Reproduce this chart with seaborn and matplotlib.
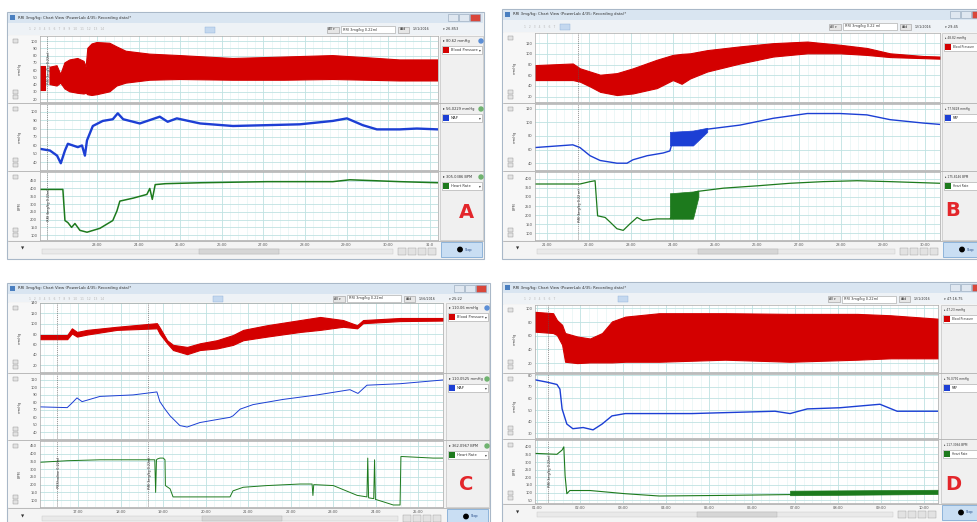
import numpy as np
import matplotlib
matplotlib.use("Agg")
import matplotlib.pyplot as plt
import seaborn as sns
from matplotlib.patches import Rectangle, Circle
from matplotlib.ticker import MultipleLocator

W, H = 978, 522
nan = np.nan

# ---------------- data ----------------
# panel A
a_bp_t = [21.63, 21.75, 21.80, 21.87, 22.04, 22.13, 22.23, 22.35, 22.54, 22.69, 22.74, 22.78, 22.88,
          23.00, 23.31, 23.48, 23.70, 24.27, 25.00, 26.27, 27.50, 28.67, 29.50, 30.28, 31.20]
a_bp_hi = [66, 66, nan, 64, 66, 54, 70, 74, 76, 72, 64, 90, 96, 98, 97, 92, 86, 82, 80, 76, 78, 80, 77, 74, 74]
a_bp_lo = [32, 32, nan, 40, 38, 42, 34, 30, 28, 27, 28, 26, 25, 26, 30, 38, 42, 46, 47, 46, 46, 47, 46, 45, 45]
a_map_t = [21.63, 21.87, 22.04, 22.13, 22.23, 22.30, 22.42, 22.54, 22.64, 22.71, 22.76, 22.90, 23.14, 23.38,
           23.50, 23.63, 24.03, 24.51, 24.70, 24.92, 25.48, 26.27, 27.09, 27.88, 28.67, 29.01, 29.39, 29.73,
           30.28, 30.69, 31.20]
a_map = [56, 54, 48, 39, 54, 62, 60, 58, 60, 48, 66, 83, 89, 91, 98, 91, 86, 94, 88, 92, 86, 83, 84, 85, 89,
         92, 84, 79, 79, 80, 79]
a_hr_t = [21.63, 22.18, 22.23, 22.30, 22.39, 22.47, 22.59, 22.76, 23.07, 23.38, 23.48, 23.55, 23.87, 24.20,
          24.27, 24.33, 24.40, 24.65, 25.50, 27.09, 28.67, 29.08, 30.28, 31.20]
a_hr = [394, 394, 194, 181, 150, 175, 131, 119, 144, 194, 256, 319, 338, 362, 400, 330, 425, 431, 437, 444,
        444, 456, 444, 437]

# panel B
b_bp_t = [20.71, 21.61, 21.78, 22.02, 22.26, 22.66, 23.04, 23.61, 23.99, 24.20, 24.40, 24.81, 25.59, 26.38,
          27.19, 27.97, 28.61, 29.16, 29.95, 30.35]
b_bp_hi = [79, 82, 73, 67, 61, 64, 73, 89, 98, 100, 101, 107, 114, 120, 123, 117, 111, 101, 96, 95]
b_bp_lo = [51, 51, 48, 39, 29, 23, 26, 36, 51, 44, 54, 67, 82, 95, 101, 101, 98, 94, 92, 91]
b_map_t = [20.71, 21.61, 21.78, 22.02, 22.26, 22.66, 22.90, 23.04, 23.38, 23.76, 23.92, 23.99, 24.40, 24.81,
           25.59, 26.38, 27.19, 27.97, 28.61, 29.16, 29.95, 30.35]
b_map = [63, 67, 63, 51, 44, 40, 40, 45, 51, 55, 58, 73, 80, 90, 96, 106, 113, 113, 111, 104, 99, 97]
b_map_burst_t = [23.92, 24.47, 24.81]
b_map_burst_lo = [66, 66, 86]
b_map_burst_hi = [86, 88, 92]
b_hr_t = [20.71, 21.78, 22.02, 22.14, 22.20, 22.38, 22.50, 22.66, 22.81, 22.97, 23.14, 23.28, 23.61, 23.92,
          24.47, 24.57, 25.19, 26.00, 26.78, 27.57, 28.38, 29.16, 30.35]
b_hr = [371, 371, 384, 389, 196, 187, 161, 125, 116, 152, 187, 170, 179, 179, 320, 330, 348, 361, 375, 384,
        389, 384, 375]
b_hr_burst_t = [23.92, 24.47, 24.60]
b_hr_burst_lo = [180, 180, 300]
b_hr_burst_hi = [320, 330, 335]

# panel C
c_bp_t = [16.10, 16.74, 16.85, 16.97, 17.21, 17.91, 18.85, 18.92, 19.09, 19.23, 19.56, 19.86, 20.26, 20.64,
          20.88, 21.44, 22.22, 22.69, 23.23, 23.56, 23.70, 24.57, 25.58]
c_bp_hi = [78, 78, 91, 84, 88, 94, 101, 92, 68, 59, 55, 62, 68, 78, 88, 97, 107, 113, 107, 97, 107, 111, 111]
c_bp_lo = [70, 70, 81, 75, 79, 88, 91, 80, 62, 49, 41, 49, 52, 59, 68, 75, 84, 88, 94, 91, 101, 105, 106]
c_map_t = [16.10, 16.74, 16.85, 16.97, 17.09, 17.51, 18.29, 18.85, 18.92, 19.04, 19.16, 19.39, 19.56, 19.86,
           20.26, 20.57, 20.64, 20.81, 21.11, 21.82, 22.62, 23.39, 23.58, 23.79, 24.57, 25.58]
c_map = [74, 73, 79, 86, 81, 88, 90, 94, 81, 71, 62, 49, 47, 53, 57, 60, 62, 71, 77, 84, 90, 97, 92, 103, 105, 110]
c_hr_t = [16.10, 16.74, 17.51, 18.80, 18.82, 18.84, 18.86, 18.92, 19.00, 19.04, 19.05, 19.16, 19.23, 19.86,
          20.57, 20.64, 20.88, 21.44, 22.22, 22.50, 22.52, 22.54, 23.00, 23.56, 23.79, 23.81, 23.83, 23.95,
          23.97, 23.99, 24.17, 24.41, 24.57, 24.59, 24.62, 25.35, 25.58]
c_hr = [344, 354, 360, 360, 150, 360, 365, 371, 371, 360, 194, 173, 121, 121, 121, 160, 183, 194, 204, 204,
        130, 200, 194, 131, 121, 371, 115, 110, 360, 105, 90, 69, 69, 381, 381, 371, 371]

# panel D
d_bp_t = [0.95, 1.37, 1.46, 1.58, 1.65, 1.93, 2.23, 2.51, 2.74, 3.05, 3.84, 5.37, 6.88, 8.44, 9.21, 10.32]
d_bp_hi = [95, 93, 83, 76, 64, 59, 56, 64, 81, 88, 93, 93, 92, 92, 90, 85]
d_bp_lo = [66, 64, 61, 47, 22, 20, 21, 21, 21, 22, 22, 25, 22, 25, 27, 27]
d_map_t = [0.95, 1.23, 1.46, 1.53, 1.58, 1.69, 1.83, 2.07, 2.30, 2.51, 2.74, 3.05, 4.60, 6.53, 6.88, 7.28,
           8.04, 8.97, 9.37, 10.32]
d_map = [76, 74, 72, 68, 51, 38, 34, 35, 33, 38, 45, 47, 47, 49, 47, 51, 52, 55, 49, 49]
d_hr_t = [0.95, 1.46, 1.58, 1.62, 1.65, 1.69, 1.76, 2.23, 3.05, 3.84, 5.37, 6.77, 10.32]
d_hr = [357, 351, 379, 400, 209, 92, 113, 113, 92, 77, 81, 86, 95]
d_hr_burst_t = [6.88, 10.32]
d_hr_burst_lo = [82, 90]
d_hr_burst_hi = [112, 118]

# axis ticks / labels
a_xticks = [23, 24, 25, 26, 27, 28, 29, 30, 31]
a_xlabels = ["23:00", "24:00", "25:00", "26:00", "27:00", "28:00", "29:00", "30:00", "31:0"]
b_xticks = [21, 22, 23, 24, 25, 26, 27, 28, 29, 30]
b_xlabels = ["21:00", "22:00", "23:00", "24:00", "25:00", "26:00", "27:00", "28:00", "29:00", "30:00"]
c_xticks = [17, 18, 19, 20, 21, 22, 23, 24, 25]
c_xlabels = ["17:00", "18:00", "19:00", "20:00", "21:00", "22:00", "23:00", "24:00", "25:00"]
d_xticks = [1, 2, 3, 4, 5, 6, 7, 8, 9, 10]
d_xlabels = ["01:00", "02:00", "03:00", "04:00", "05:00", "06:00", "07:00", "08:00", "09:00", "10:00"]

a_yticks = [list(range(20, 101, 10)), list(range(40, 101, 10)), list(range(100, 451, 50))]
b_yticks = [list(range(20, 121, 20)), list(range(40, 121, 20)), list(range(100, 401, 50))]
c_yticks = [list(range(20, 141, 20)), list(range(40, 111, 10)), list(range(100, 451, 50))]
d_yticks = [list(range(20, 101, 20)), list(range(30, 81, 10)), list(range(50, 401, 50))]

channels = ["Blood Pressure", "MAP", "Heart Rate"]
units = ["mmHg", "mmHg", "BPM"]
a_readouts = ["80.62 mmHg", "56.0229 mmHg", "305.0386 BPM"]
b_readouts = ["48.82 mmHg", "77.9428 mmHg", "175.8146 BPM"]
c_readouts = ["110.06 mmHg", "110.0525 mmHg", "362.0967 BPM"]
d_readouts = ["47.23 mmHg", "76.0791 mmHg", "117.3066 BPM"]

# ---------------- layout (pixel boxes) ----------------
PANELS = {
    "A": dict(win=(7, 12, 484, 259), plot=(40, 438), rows=[(36, 102), (104, 170), (172, 240)], side=(440, 484),
              xlim=(21.63, 31.20), ylims=[(16, 107), (31, 109), (69, 506)], letter=(466, 212), hl=198,
              map_lw=1.7, hr_lw=1.1, clock="26.853", date="12/1/2016", comment="RRI 3mg/kg 0.22ml",
              events=[(21.80, [0, 2], "RRI 3mg/kg 0.22ml")]),
    "B": dict(win=(502, 9, 994, 259), plot=(535, 940), rows=[(33, 102), (104, 170), (172, 240)], side=(942, 994),
              xlim=(20.71, 30.35), ylims=[(10, 139), (30, 127), (63, 437)], letter=(953, 211), hl=58,
              map_lw=1.0, hr_lw=0.9, clock="29:45", date="12/1/2016", comment="RRI 3mg/kg 0.22 ml",
              events=[(21.73, [2], "RRI 3mg/kg 0.22 ml")]),
    "C": dict(win=(7, 283, 490, 532), plot=(40, 443), rows=[(303, 372), (374, 439), (441, 507)], side=(446, 490),
              xlim=(16.10, 25.58), ylims=[(6.5, 140), (31, 118), (56, 481)], letter=(466, 484), hl=206,
              map_lw=0.7, hr_lw=0.7, clock="25:22", date="12/6/2016", comment="RRI 3mg/kg 0.22ml",
              events=[(16.50, [2], "PBS/saline 0.22ml"), (18.64, [2], "RRI 3mg/kg 0.22ml")]),
    "D": dict(win=(502, 282, 994, 532), plot=(535, 938), rows=[(305, 372), (374, 438), (440, 503)], side=(941, 994),
              xlim=(0.95, 10.32), ylims=[(7, 105), (26, 81), (31, 445)], letter=(953, 484), hl=116,
              map_lw=1.0, hr_lw=0.8, clock="47:16.75", date="12/1/2016", comment="RRI 3mg/kg 0.22ml",
              events=[(1.25, [2], "RRI 3mg/kg 0.22ml")]),
}

SERIES = {
    "A": dict(bp=(a_bp_t, a_bp_lo, a_bp_hi), map=(a_map_t, a_map), hr=(a_hr_t, a_hr), map_burst=None,
              hr_burst=None, xt=(a_xticks, a_xlabels), yt=a_yticks, read=a_readouts),
    "B": dict(bp=(b_bp_t, b_bp_lo, b_bp_hi), map=(b_map_t, b_map), hr=(b_hr_t, b_hr),
              map_burst=(b_map_burst_t, b_map_burst_lo, b_map_burst_hi),
              hr_burst=(b_hr_burst_t, b_hr_burst_lo, b_hr_burst_hi), xt=(b_xticks, b_xlabels), yt=b_yticks,
              read=b_readouts),
    "C": dict(bp=(c_bp_t, c_bp_lo, c_bp_hi), map=(c_map_t, c_map), hr=(c_hr_t, c_hr), map_burst=None,
              hr_burst=None, xt=(c_xticks, c_xlabels), yt=c_yticks, read=c_readouts),
    "D": dict(bp=(d_bp_t, d_bp_lo, d_bp_hi), map=(d_map_t, d_map), hr=(d_hr_t, d_hr), map_burst=None,
              hr_burst=(d_hr_burst_t, d_hr_burst_lo, d_hr_burst_hi), xt=(d_xticks, d_xlabels), yt=d_yticks,
              read=d_readouts),
}

RED, BLUE, GREEN = "#d40000", "#1c3fd4", "#1d7a1d"
CH_COLORS = [RED, BLUE, GREEN]

sns.set_style("white")
plt.rcParams["font.family"] = ["DejaVu Sans"]

fig = plt.figure(figsize=(W / 100, H / 100), dpi=100)
bg = fig.add_axes([0, 0, 1, 1])
bg.set_xlim(0, W)
bg.set_ylim(H, 0)
bg.axis("off")


def rect(x0, y0, x1, y1, fc, ec="none", lw=0.5, z=1):
    bg.add_patch(Rectangle((x0, y0), x1 - x0, y1 - y0, facecolor=fc, edgecolor=ec, linewidth=lw, zorder=z))


def txt(x, y, s, size=3.2, color="#333333", **kw):
    bg.text(x, y, s, fontsize=size, color=color, va="center", **kw)


def px_axes(x0, y0, x1, y1):
    return fig.add_axes([x0 / W, 1 - y1 / H, (x1 - x0) / W, (y1 - y0) / H])


def draw_window(key):
    p = PANELS[key]
    s = SERIES[key]
    x0, y0, x1, y1 = p["win"]
    sx0, sx1 = p["side"]
    px0, px1 = p["plot"]
    rows = p["rows"]
    bot = rows[-1][1]
    cut = x1 > W          # window runs past the right edge of the picture
    side_fs = 2.1 if cut else 2.6

    # window frame and title bar
    rect(x0, y0, x1, y1, "#f4f4f4", ec="#a9b8c8", lw=0.8)
    rect(x0 + 1, y0 + 1, x1 - 1, y0 + 11, "#d9e5f1")
    rect(x0 + 3, y0 + 3, x0 + 8, y0 + 8, "#4a7fc0")
    txt(x0 + 11, y0 + 5.5, "RRI 3mg/kg: Chart View (PowerLab 4/35: Recording data)*", size=2.8)
    bx = x1 - 44 if cut else x1 - 36
    for i, c in enumerate(["#dfe7f0", "#dfe7f0", "#d9463a"]):
        rect(bx + i * 11, y0 + 2, bx + i * 11 + 10, y0 + 9, c, ec="#8fa3b8", lw=0.4)

    # toolbar
    rect(x0 + 1, y0 + 11, x1 - 1, rows[0][0] - 1, "#eef2f6")
    ty = (y0 + 11 + rows[0][0]) / 2
    n_marks = 15 if p["hl"] > 150 else 8
    txt(x0 + 22, ty, "   ".join(str(i) for i in range(1, n_marks)), size=2.2, color="#b5b5b5")
    rect(x0 + p["hl"], ty - 3, x0 + p["hl"] + 10, ty + 3, "#c4d8ef", ec="#8eb0d8", lw=0.3)
    rect(sx0 - 113, ty - 3, sx0 - 101, ty + 3, "#e6e6e6", ec="#9a9a9a", lw=0.4)
    txt(sx0 - 112, ty, "All \u25be", size=2.3)
    rect(sx0 - 99, ty - 3.5, sx0 - 45, ty + 3.5, "white", ec="#a0a0a0", lw=0.4)
    txt(sx0 - 97, ty, p["comment"], size=2.5)
    rect(sx0 - 42, ty - 3, sx0 - 31, ty + 3, "#e6e6e6", ec="#9a9a9a", lw=0.4)
    txt(sx0 - 40, ty, "Add", size=2.3)
    txt(sx0 - 27, ty, p["date"], size=2.3)
    txt(sx0 + 3, ty, "\u25be " + p["clock"], size=2.5)

    # left strip, sidebar
    rect(x0 + 1, rows[0][0], px0, bot, "#f7f7f7")
    rect(sx0, rows[0][0], x1 - 1, bot, "#f0f0f0", ec="#b9b9b9", lw=0.4)

    for r, (r0, r1) in enumerate(rows):
        # separators and small buttons
        bg.plot([x0 + 1, x1 - 1], [r1 + 1, r1 + 1], color="#b0b0b0", lw=0.6, zorder=2)
        for yy in (r0 + 3, r1 - 12, r1 - 7):
            rect(x0 + 6, yy, x0 + 11, yy + 4, "#e3e3e3", ec="#8c8c8c", lw=0.3, z=2)
        bg.text(x0 + 13, (r0 + r1) / 2, units[r], fontsize=2.6, color="#555555", rotation=90,
                ha="center", va="center")
        # sidebar channel info
        txt(sx0 + 3, r0 + 5, "\u25b8 " + s["read"][r], size=side_fs)
        bg.add_patch(Circle((sx0 + 41, r0 + 5), 2, color="#5b8ed6" if r == 0 else "#6fb36f", zorder=3))
        rect(sx0 + 2, r0 + 10, sx1 - 2, r0 + 18, "white", ec="#a0a0a0", lw=0.4, z=2)
        rect(sx0 + 3, r0 + 11, sx0 + 9, r0 + 17, CH_COLORS[r], z=3)
        txt(sx0 + 11, r0 + 14, channels[r], size=side_fs)
        if not cut:
            txt(sx0 + 39, r0 + 14, "\u25be", size=2.6)

    # bottom bar: scrollbar and Stop button
    rect(px0 + 2, bot + 9, px1 - 45, bot + 14, "#e9e9e9", ec="#c4c4c4", lw=0.3)
    mid = (px0 + px1) / 2
    rect(mid - 40, bot + 9, mid + 40, bot + 14, "#d6d6d6", ec="#b0b0b0", lw=0.3)
    for i in range(4):
        rect(px1 - 40 + i * 10, bot + 8, px1 - 32 + i * 10, bot + 15, "#e2e2e2", ec="#9a9a9a", lw=0.3)
    rect(sx0 + 1, bot + 2, min(sx0 + 42, x1 - 1), bot + 17, "#c9def3", ec="#6f9fd0", lw=0.5)
    bg.add_patch(Circle((sx0 + 20, bot + 9.5), 2.2, color="black", zorder=3))
    txt(sx0 + 25, bot + 9.5, "Stop", size=2.4, color="#1a3f80")
    txt(x0 + 16, bot + 9, "\u25bc", size=3, color="#333333", ha="center")

    # panel letter
    bg.text(p["letter"][0], p["letter"][1], key, fontsize=14, fontweight="bold", color="#e3262b",
            ha="center", va="center", zorder=4)

    # -------- the three data strips --------
    bp_t, bp_lo, bp_hi = s["bp"]
    for r, (r0, r1) in enumerate(rows):
        ax = px_axes(px0, r0, px1, r1)
        ax.set_facecolor("white")
        ax.set_xlim(*p["xlim"])
        ax.set_ylim(*p["ylims"][r])
        ax.set_yticks(s["yt"][r])
        if r == 2:
            ax.set_xticks(s["xt"][0], s["xt"][1])
        else:
            ax.set_xticks(s["xt"][0])
            ax.tick_params(labelbottom=False)
        ax.xaxis.set_minor_locator(MultipleLocator(0.2))
        ax.grid(which="major", color="#bfe2e2", lw=0.6)
        ax.grid(which="minor", axis="x", color="#e0f1f1", lw=0.4)
        ax.set_axisbelow(True)
        ax.tick_params(length=0, labelsize=2.6, pad=2, colors="#555555")
        for sp in ax.spines.values():
            sp.set_color("#a8a8a8")
            sp.set_linewidth(0.5)

        if r == 0:
            ax.fill_between(bp_t, bp_lo, bp_hi, color=RED, lw=0.8, edgecolor=RED)
        elif r == 1:
            if s["map_burst"] is not None:
                bt, blo, bhi = s["map_burst"]
                ax.fill_between(bt, blo, bhi, color=BLUE, lw=0.5, edgecolor=BLUE)
            sns.lineplot(x=s["map"][0], y=s["map"][1], ax=ax, color=BLUE, lw=p["map_lw"],
                         sort=False, estimator=None, legend=False)
        else:
            if s["hr_burst"] is not None:
                bt, blo, bhi = s["hr_burst"]
                ax.fill_between(bt, blo, bhi, color=GREEN, lw=0.5, edgecolor=GREEN)
            sns.lineplot(x=s["hr"][0], y=s["hr"][1], ax=ax, color=GREEN, lw=p["hr_lw"],
                         sort=False, estimator=None, legend=False)
        ax.set_xlabel("")
        ax.set_ylabel("")

        for et, erows, label in p["events"]:
            ax.axvline(et, color="#555555", lw=0.4, ls=(0, (2, 1.5)))
            if r in erows:
                ax.text(et, 0.5, "  " + label, transform=ax.get_xaxis_transform(), rotation=90,
                        fontsize=2.4, color="#333333", ha="left", va="center")


for k in ["A", "B", "C", "D"]:
    draw_window(k)

fig.savefig("out.png", dpi=100)
